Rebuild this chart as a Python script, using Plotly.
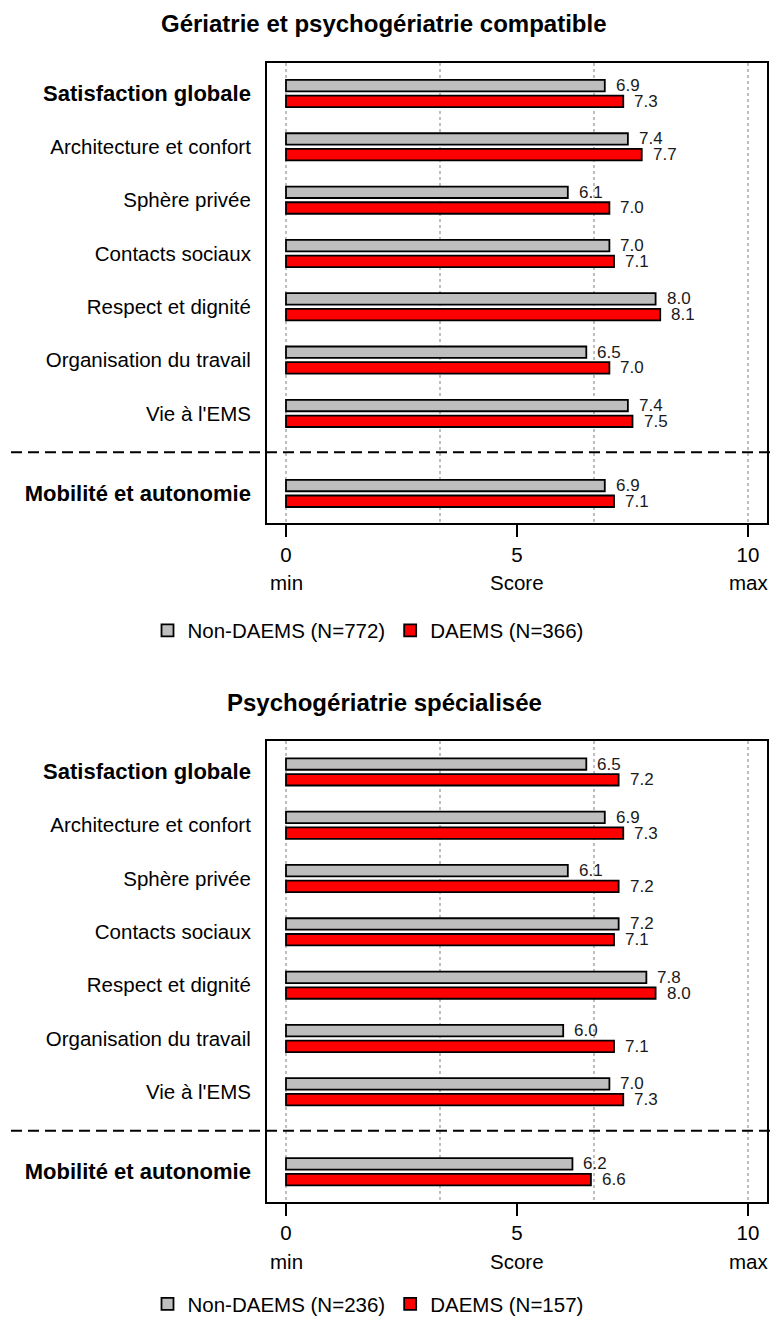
import plotly.graph_objects as go

# ---------------- data ----------------
categories = ["Satisfaction globale", "Architecture et confort", "Sphère privée",
              "Contacts sociaux", "Respect et dignité", "Organisation du travail",
              "Vie à l'EMS", "Mobilité et autonomie"]
bold_categories = ["Satisfaction globale", "Mobilité et autonomie"]

panel_titles = ["Gériatrie et psychogériatrie compatible", "Psychogériatrie spécialisée"]

non_daems_top = [6.9, 7.4, 6.1, 7.0, 8.0, 6.5, 7.4, 6.9]
daems_top = [7.3, 7.7, 7.0, 7.1, 8.1, 7.0, 7.5, 7.1]
non_daems_bottom = [6.5, 6.9, 6.1, 7.2, 7.8, 6.0, 7.0, 6.2]
daems_bottom = [7.2, 7.3, 7.2, 7.1, 8.0, 7.1, 7.3, 6.6]

legend_top = ["Non-DAEMS (N=772)", "DAEMS (N=366)"]
legend_bottom = ["Non-DAEMS (N=236)", "DAEMS (N=157)"]

x_ticks = [0, 5, 10]
x_tick_labels = ["0", "5", "10"]
x_subtitles = ["min", "Score", "max"]

# ---------------- layout helpers ----------------
W, H = 771, 1324
FONT = "Liberation Sans, Arial, sans-serif"
GRAY = "#BEBEBE"
RED = "#FF0000"


def fx(px):
    """page pixel x -> paper x"""
    return px / W


def fy(py):
    """page pixel y -> paper y"""
    return 1 - py / H


n = len(categories)
positions = [float(i) for i in range(n - 1)] + [n - 1 + 0.5]
tick_text = [
    f'<b><span style="font-size:22px">{c}</span></b>' if c in bold_categories else c
    for c in categories
]

PANEL_H = 463
X_LEFT, X_RIGHT = 267, 767
TOP1, TOP2 = 63, 745

panels = [
    dict(title=panel_titles[0], a=non_daems_top, b=daems_top, names=legend_top,
         top=TOP1, xa="x", ya="y", legend="legend"),
    dict(title=panel_titles[1], a=non_daems_bottom, b=daems_bottom, names=legend_bottom,
         top=TOP2, xa="x2", ya="y2", legend="legend2"),
]

fig = go.Figure()
annotations = []
shapes = []

BAR_W = 0.215
OFF_A = -0.255
OFF_B = 0.04

for p in panels:
    for vals, name, color, off in [(p["a"], p["names"][0], GRAY, OFF_A),
                                   (p["b"], p["names"][1], RED, OFF_B)]:
        fig.add_trace(go.Bar(
            x=vals, y=positions, orientation="h", name=name,
            width=BAR_W, offset=off,
            marker=dict(color=color, line=dict(color="black", width=1.8)),
            xaxis=p["xa"], yaxis=p["ya"], legend=p["legend"],
            hoverinfo="skip",
        ))
        for v, y in zip(vals, positions):
            annotations.append(dict(
                x=v, y=y + off + BAR_W / 2, xref=p["xa"], yref=p["ya"],
                text=f"{v:.1f}", showarrow=False, xanchor="left", yanchor="middle",
                xshift=9, font=dict(family=FONT, size=17, color="#1a1a1a"),
            ))
    # title
    annotations.append(dict(
        x=fx(384), y=fy(p["top"] - 39), xref="paper", yref="paper",
        text=f"<b>{p['title']}</b>", showarrow=False, xanchor="center", yanchor="middle",
        font=dict(family=FONT, size=24, color="black"),
    ))
    # min / Score / max
    for xv, t in zip(x_ticks, x_subtitles):
        annotations.append(dict(
            x=xv, y=fy(p["top"] + PANEL_H + 60), xref=p["xa"], yref="paper",
            text=t, showarrow=False, xanchor="center", yanchor="middle",
            font=dict(family=FONT, size=20.5, color="black"),
        ))
    # separator dashed line
    shapes.append(dict(
        type="line", xref="paper", yref=p["ya"], x0=fx(11), x1=1,
        y0=6.73, y1=6.73, line=dict(color="black", width=2, dash="11px,6px"),
    ))

px_per_unit = 53.6
y_first = 31.0  # offset of first category centre from box top (px)
y_range = [(PANEL_H - y_first) / px_per_unit, -y_first / px_per_unit]

x_px = (748 - 286) / 10
x_range = [(X_LEFT - 286) / x_px, (X_RIGHT - 286) / x_px]


def xaxis_cfg(anchor):
    return dict(
        domain=[fx(X_LEFT), fx(X_RIGHT)], anchor=anchor, range=x_range,
        tickvals=x_ticks, ticktext=x_tick_labels, ticks="outside", ticklen=12,
        tickwidth=1.5, tickcolor="black", showgrid=False, zeroline=False,
        showline=True, mirror=True, linecolor="black", linewidth=2,
        tickfont=dict(family=FONT, size=20.5, color="black"),
        minor=dict(tickvals=[0, 10 / 3, 20 / 3, 10], showgrid=True, griddash="dot",
                   gridcolor=GRAY, gridwidth=1.5, ticks=""),
        fixedrange=True,
    )


def yaxis_cfg(anchor, top):
    return dict(
        domain=[fy(top + PANEL_H), fy(top)], anchor=anchor, range=y_range,
        tickvals=positions, ticktext=tick_text, ticks="", showgrid=False,
        zeroline=False, showline=True, mirror=True, linecolor="black", linewidth=2,
        tickfont=dict(family=FONT, size=20.5, color="black"),
        ticklabelstandoff=10, fixedrange=True,
    )


legend_common = dict(orientation="h", xanchor="center", yanchor="middle",
                     font=dict(family=FONT, size=20.5, color="black"),
                     bgcolor="rgba(0,0,0,0)", traceorder="normal")

fig.update_layout(
    width=W, height=H, autosize=False,
    margin=dict(l=0, r=0, t=0, b=0),
    paper_bgcolor="white", plot_bgcolor="white",
    barmode="overlay", bargap=0,
    font=dict(family=FONT, color="black"),
    xaxis=xaxis_cfg("y"), yaxis=yaxis_cfg("x", TOP1),
    xaxis2=xaxis_cfg("y2"), yaxis2=yaxis_cfg("x2", TOP2),
    legend=dict(x=fx(368), y=fy(TOP1 + PANEL_H + 108), **legend_common),
    legend2=dict(x=fx(368), y=fy(1311), **legend_common),
    annotations=annotations, shapes=shapes,
    showlegend=True,
)

# remove the default page margin so the figure fills the window exactly
page_script = ("document.body.style.margin='0';"
               "document.documentElement.style.overflow='hidden';"
               "document.body.style.overflow='hidden';")

fig.write_html("out.html", post_script=page_script,
               config={"displayModeBar": False, "staticPlot": True})
